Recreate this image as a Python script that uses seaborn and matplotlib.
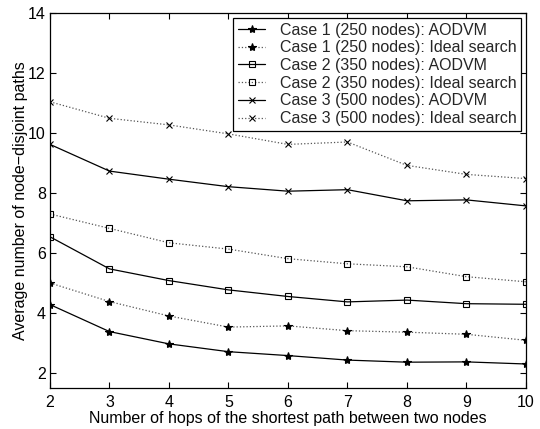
import matplotlib
matplotlib.use("Agg")
import matplotlib.pyplot as plt
import seaborn as sns
import pandas as pd

hops = [2, 3, 4, 5, 6, 7, 8, 9, 10]
case1_aodvm = [4.28, 3.38, 2.97, 2.71, 2.58, 2.43, 2.36, 2.37, 2.30]
case1_ideal = [5.00, 4.38, 3.90, 3.53, 3.57, 3.41, 3.36, 3.29, 3.09]
case2_aodvm = [6.54, 5.47, 5.08, 4.77, 4.55, 4.37, 4.43, 4.31, 4.29]
case2_ideal = [7.30, 6.82, 6.34, 6.13, 5.81, 5.64, 5.54, 5.21, 5.04]
case3_aodvm = [9.62, 8.73, 8.46, 8.21, 8.06, 8.11, 7.74, 7.77, 7.57]
case3_ideal = [11.04, 10.49, 10.27, 9.97, 9.62, 9.70, 8.92, 8.62, 8.48]

labels = ["Case 1 (250 nodes): AODVM", "Case 1 (250 nodes): Ideal search",
          "Case 2 (350 nodes): AODVM", "Case 2 (350 nodes): Ideal search",
          "Case 3 (500 nodes): AODVM", "Case 3 (500 nodes): Ideal search"]
series = [case1_aodvm, case1_ideal, case2_aodvm, case2_ideal, case3_aodvm, case3_ideal]

sns.set_theme(style="ticks")
plt.rcParams['font.family'] = ['Liberation Sans', 'DejaVu Sans']
plt.rcParams['xtick.direction'] = 'in'
plt.rcParams['ytick.direction'] = 'in'

fig = plt.figure(figsize=(5.4, 4.29), dpi=100)
ax = fig.add_axes([0.0926, 0.0956, 0.974 - 0.0926, 0.9697 - 0.0956])

styles = [("-", "*", "black", "black", 6), (":", "*", "#555555", "black", 6),
          ("-", "s", "black", "none", 5), (":", "s", "#555555", "none", 5),
          ("-", "x", "black", "black", 4.5), (":", "x", "#555555", "black", 4.5)]

for lab, vals, (ls, mk, lc, mfc, ms) in zip(labels, series, styles):
    df = pd.DataFrame({"hops": hops, "paths": vals})
    sns.lineplot(data=df, x="hops", y="paths", ax=ax, label=lab,
                 color=lc, linestyle=ls, linewidth=0.9, marker=mk,
                 markersize=ms, markerfacecolor=mfc,
                 markeredgecolor="black", markeredgewidth=0.8)

ax.set_xlim(2, 10)
ax.set_ylim(1.5, 14)
ax.set_xticks(hops)
ax.set_yticks([2, 4, 6, 8, 10, 12, 14])
ax.tick_params(top=True, right=True, labelsize=11.5, length=4, width=0.8, color="black", labelcolor="black", pad=3)
ax.tick_params(axis="x", pad=5)
for s in ax.spines.values():
    s.set_color("black")
    s.set_linewidth(0.9)
ax.set_xlabel("Number of hops of the shortest path between two nodes", fontsize=11.5, color="black", labelpad=1)
ax.set_ylabel("Average number of node\u2212disjoint paths", fontsize=11.5, color="black", labelpad=0)

leg = ax.legend(loc="upper right", fontsize=11.5, frameon=True, fancybox=False,
                edgecolor="black", framealpha=1, borderaxespad=0.3,
                handlelength=1.7, handletextpad=0.9, labelspacing=0.17, borderpad=0.3)
leg.get_frame().set_linewidth(0.9)

fig.savefig("out.png", dpi=100)
